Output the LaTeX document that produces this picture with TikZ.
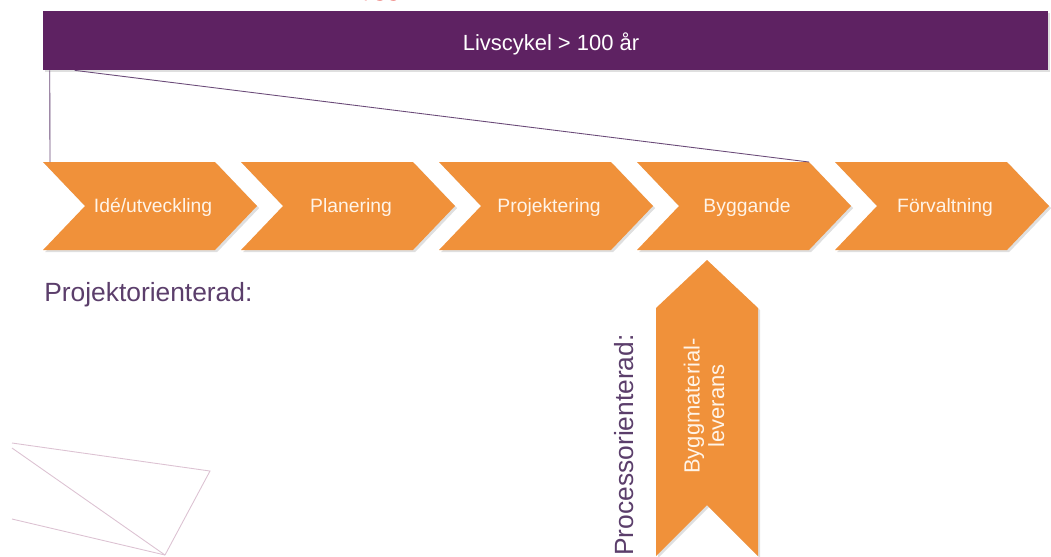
\documentclass[tikz,border=0pt]{standalone}
\usepackage{fontspec}
\setmainfont{Liberation Sans}
\newfontfamily\notefont{Carlito}
\usetikzlibrary{shadows,calc}
\definecolor{barpurple}{HTML}{5E2262}
\definecolor{chevorange}{HTML}{F0913A}
\definecolor{labelpurple}{HTML}{5B3E6B}
\definecolor{linepurple}{HTML}{6A4A78}
\definecolor{sketchpink}{HTML}{DCC2D2}
\definecolor{notered}{HTML}{E3342E}
\definecolor{chevtext}{HTML}{FFF4E8}
\begin{document}
\begin{tikzpicture}[x=0.02cm,y=-0.02cm,
  softshadow/.style={drop shadow={opacity=0.25,shadow xshift=1.2pt,shadow yshift=-1.2pt}},
  phase/.style={fill=chevorange,softshadow},
  phasetext/.style={anchor=base,text=chevtext,font=\fontsize{11}{13}\selectfont,inner sep=0pt},
  sidelabel/.style={text=labelpurple,font=\fontsize{15}{18}\selectfont,inner sep=0pt},
  guide/.style={draw=linepurple,line width=0.5pt},
  sketch/.style={draw=sketchpink,line width=0.5pt}]
\useasboundingbox (0,0) rectangle (1051,556);

% heading note, running off the top edge
\node[anchor=base west,inner sep=0pt,text=notered,font=\notefont\itshape\fontsize{15}{18}\selectfont]
  (note) at (349,-4) {Byggnad /};

% life-cycle bar
\node[fill=barpurple,softshadow,minimum width=20.1cm,minimum height=1.18cm,inner sep=0pt]
  (bar) at (545.5,40.5) {};
\node[anchor=base,inner sep=0pt,text=white,font=\fontsize{12.5}{15}\selectfont]
  (bartext) at (551,50) {Livscykel > 100 år};

% project phases as chevrons
\foreach \L/\name/\label in {43/p1/Idé\slash utveckling,241/p2/Planering,439/p3/Projektering,637/p4/Byggande,835/p5/Förvaltning}{
  \fill[phase] (\L,162) -- ++(172,0) -- ++(42,44) -- ++(-42,44) -- ++(-172,0) -- ++(42,-44) -- cycle;
  \coordinate (\name-nw) at (\L+7,162);
  \coordinate (\name-ne) at (\L+172,162);
  \node[phasetext] (\name) at (\L+110,212) {\label};
}

% zoom lines from the bar down to the phase row
\coordinate (barleft) at ($(bar.south west)+(7,0)$);
\coordinate (barcut) at ($(bar.south west)+(32,0)$);
\draw[guide] (barleft) -- (p1-nw);
\draw[guide] (barcut) -- (p4-ne);

% side labels
\node[sidelabel,anchor=base west] (proj) at (44,301) {Projektorienterad:};
\node[sidelabel,anchor=base,rotate=90] (proc) at (633,445) {Processorienterad:};

% vertical process chevron
\fill[phase] (656,308) -- (707,260) -- (758,308) -- (758,556) -- (707,505) -- (656,556) -- cycle;
\node[rotate=90,align=center,text=chevtext,inner sep=0pt,
  font=\fontsize{12.5}{14}\selectfont] (supply) at (704,406) {Byggmaterial-\\leverans};

% faint sketch strokes, lower left
\coordinate (s1) at (12,443);
\coordinate (s2) at (210,471);
\coordinate (s3) at (165,555);
\coordinate (s4) at (12,448);
\coordinate (s5) at (12,519);
\draw[sketch] (s1) -- (s2) -- (s3);
\draw[sketch] (s4) -- (s3);
\draw[sketch] (s5) -- (s3);
\end{tikzpicture}
\end{document}
